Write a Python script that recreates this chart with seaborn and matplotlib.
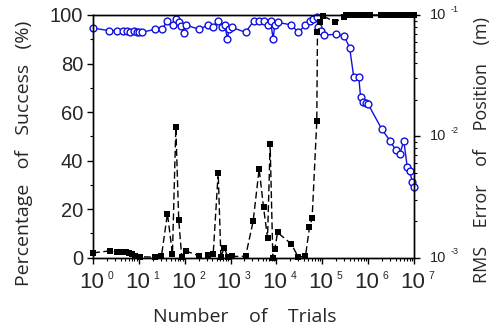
import matplotlib
matplotlib.use("Agg")
import matplotlib.pyplot as plt
import matplotlib.ticker as mticker
import seaborn as sns
import pandas as pd
import numpy as np

# percentage of success (black squares, left axis)
trials_success = [1, 2.3, 3.3, 4.2, 5.2, 6.2, 7.0, 8.2, 10.6, 22, 31, 42, 54, 64, 74, 86,
                  105, 204, 325, 418, 537, 615, 726, 861, 1052, 2124, 3107, 4200, 5235,
                  6400, 7290, 8350, 9230, 10570, 21300, 29700, 43000, 52600, 60000, 75900,
                  78500, 91400, 104000, 194000, 294000, 336000, 398000, 485000, 593000,
                  725000, 887000, 1084000, 1950000, 2570000, 3160000, 3800000, 4680000,
                  5750000, 6920000, 8510000, 10000000]
success = [2.0, 2.8, 2.3, 2.3, 2.3, 2.0, 1.4, 0.8, 0.4, 0.2, 0.5, 18.2, 1.5, 53.7, 15.7, 0.4,
           2.8, 0.8, 1.0, 1.5, 35.0, 0.2, 4.2, 0.4, 0.5, 0.6, 15.0, 36.6, 20.7,
           8.2, 46.7, 0.0, 3.5, 10.4, 5.6, 0.3, 0.6, 12.6, 16.2, 56.3,
           92.9, 97.2, 99.6, 97.0, 99.3, 100, 100, 100, 100,
           100, 100, 100, 100, 100, 100, 100, 100,
           100, 100, 100, 100]

# RMS error of position (blue open circles, right axis)
trials_rms = [1, 2.27, 3.38, 4.43, 5.42, 6.4, 7.8, 8.95, 10.1, 11.5, 22.4, 32.3, 41.6, 56, 64,
              76, 85, 98, 105, 208, 325, 418, 520, 640, 755, 847, 930, 1052, 2124, 3220,
              4200, 5300, 6400, 7440, 8460, 9230, 10570, 21300, 29700, 43000, 53000, 62000,
              76000, 80000, 95500, 108000, 197000, 300000, 395000, 484000, 623000, 685000,
              770000, 880000, 1000000, 2000000, 3000000, 4000000, 4900000, 6000000,
              7100000, 8000000, 9200000, 10000000]
rms_error = [0.078, 0.0743, 0.0743, 0.0743, 0.0738, 0.0720, 0.0743, 0.0724, 0.072, 0.072,
             0.0762, 0.0762, 0.0898, 0.0827, 0.0927, 0.0871, 0.0811, 0.0706, 0.0827, 0.0762,
             0.0827, 0.0792, 0.0898, 0.0792, 0.0827, 0.0634, 0.0762, 0.0792, 0.072, 0.0898,
             0.0898, 0.0898, 0.0827, 0.0898, 0.0634, 0.0827, 0.0871, 0.0827, 0.072, 0.0827,
             0.0893, 0.0927, 0.0957, 0.0792, 0.0743, 0.0684, 0.0693, 0.0671, 0.0538, 0.031,
             0.031, 0.021, 0.0193, 0.0187, 0.0184, 0.0114, 0.0092, 0.0077, 0.00716, 0.0092,
             0.00562, 0.00517, 0.00422, 0.00385]

x_exponents = [0, 1, 2, 3, 4, 5, 6, 7]
rms_exponents = [-3, -2, -1]

df_s = pd.DataFrame({"trials": trials_success, "success": success})
df_r = pd.DataFrame({"trials": trials_rms, "rms": rms_error})

sns.set_style("ticks")
plt.rcParams["font.family"] = ["Liberation Sans", "DejaVu Sans"]

fig = plt.figure(figsize=(5.04, 3.31), dpi=100)
ax = fig.add_axes([93 / 504, 1 - 257.7 / 331, (414 - 93) / 504, (257.7 - 15) / 331])
ax2 = ax.twinx()

sns.lineplot(data=df_r, x="trials", y="rms", ax=ax2, estimator=None, sort=False,
             color="#1010e0", lw=1.0, marker="o", markersize=4.9,
             markerfacecolor="white", markeredgecolor="#1010e0", markeredgewidth=1.0,
             clip_on=False)
sns.lineplot(data=df_s, x="trials", y="success", ax=ax, estimator=None, sort=False,
             color="black", lw=1.0, dashes=False, linestyle=(0, (5, 2.5)), marker="s",
             markersize=4.3, markeredgewidth=0, clip_on=False)

ax.set_zorder(ax2.get_zorder() + 1)
ax.patch.set_visible(False)

ax.set_xscale("log")
ax.set_xlim(1, 1e7)
ax.set_ylim(0, 100)
ax.yaxis.set_major_locator(mticker.MultipleLocator(20))
ax.yaxis.set_minor_locator(mticker.MultipleLocator(10))
ax.xaxis.set_major_locator(mticker.LogLocator(base=10, numticks=20))
ax.xaxis.set_minor_locator(mticker.LogLocator(base=10, subs=np.arange(2, 10), numticks=20))
ax.xaxis.set_minor_formatter(mticker.NullFormatter())

ax2.set_yscale("log")
ax2.set_ylim(1e-3, 1e-1)
ax2.yaxis.set_minor_locator(mticker.LogLocator(base=10, subs=np.arange(2, 10), numticks=20))
ax2.yaxis.set_minor_formatter(mticker.NullFormatter())

for a in (ax, ax2):
    for s in a.spines.values():
        s.set_linewidth(1.0)
        s.set_color("black")
    a.tick_params(which="major", direction="out", length=4, width=1.0, color="black")
    a.tick_params(which="minor", direction="out", length=2.5, width=0.8, color="black")

ax.tick_params(axis="y", labelsize=14.5, pad=3)
ax.tick_params(axis="x", labelbottom=False)
ax2.tick_params(axis="y", labelright=False)

# x tick labels as "10" with a small raised exponent
for k in x_exponents:
    ax.annotate("10", xy=(10.0 ** k, 0), xycoords=("data", "axes fraction"),
                xytext=(-1, -10), textcoords="offset points", ha="center", va="top",
                fontsize=16, annotation_clip=False)
    ax.annotate(str(k), xy=(10.0 ** k, 0), xycoords=("data", "axes fraction"),
                xytext=(10.5, -9.5), textcoords="offset points", ha="left", va="top",
                fontsize=7.5, annotation_clip=False)

for k in rms_exponents:
    ax2.annotate("10", xy=(1, 10.0 ** k), xycoords=("axes fraction", "data"),
                 xytext=(11.5, 0), textcoords="offset points", ha="left", va="center",
                 fontsize=10.5, annotation_clip=False)
    ax2.annotate(str(k), xy=(1, 10.0 ** k), xycoords=("axes fraction", "data"),
                 xytext=(26, 1), textcoords="offset points", ha="left", va="bottom",
                 fontsize=6.5, annotation_clip=False)

ax.set_xlabel("")
ax.set_ylabel("")
ax2.set_ylabel("")
fig.text(245 / 504, 1 - 317 / 331, "Number    of    Trials",
         ha="center", va="center", fontsize=14, family="Open Sans")
fig.text(24 / 504, 1 - 153 / 331, "Percentage   of   Success   (%)", rotation=90,
         ha="center", va="center", fontsize=14, family="Open Sans")
fig.text(482 / 504, 1 - 150 / 331, "RMS    Error    of    Position    (m)", rotation=90,
         ha="center", va="center", fontsize=13, family="Open Sans")

fig.savefig("out.png", dpi=100)
